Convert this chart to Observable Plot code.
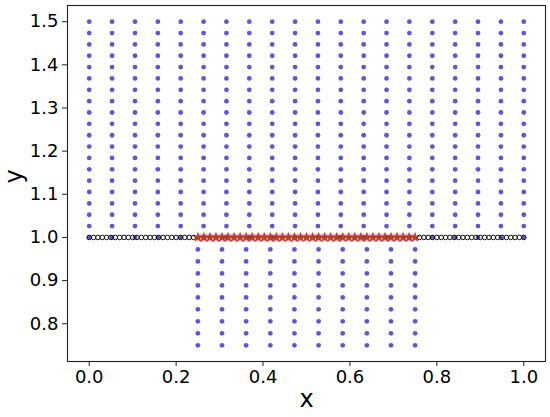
<!DOCTYPE html>
<html>
<head>
<meta charset="utf-8">
<script src="https://cdn.jsdelivr.net/npm/d3@7"></script>
<script src="https://cdn.jsdelivr.net/npm/@observablehq/plot@0.6"></script>
<style>
  html, body { margin: 0; padding: 0; background: #fff; }
  #chart svg { display: block; }
</style>
</head>
<body>
<div id="chart"></div>
<script>
// Interior grid (upper block), x columns and y rows
const upperXs = [0, 0.0526, 0.1053, 0.1579, 0.2105, 0.2632, 0.3158, 0.3684, 0.4211, 0.4737,
  0.5263, 0.5789, 0.6316, 0.6842, 0.7368, 0.7895, 0.8421, 0.8947, 0.9474, 1];
const upperYs = [1, 1.0263, 1.0526, 1.0789, 1.1053, 1.1316, 1.1579, 1.1842, 1.2105, 1.2368,
  1.2632, 1.2895, 1.3158, 1.3421, 1.3684, 1.3947, 1.4211, 1.4474, 1.4737, 1.5];
// Interior grid (lower block)
const lowerXs = [0.25, 0.3056, 0.3611, 0.4167, 0.4722, 0.5278, 0.5833, 0.6389, 0.6944, 0.75];
const lowerYs = [0.75, 0.7778, 0.8056, 0.8333, 0.8611, 0.8889, 0.9167, 0.9444, 0.9722];
// Boundary points on y = 1 (open circles)
const boundaryXs = [0, 0.01, 0.02, 0.03, 0.04, 0.05, 0.06, 0.07, 0.08, 0.09, 0.10, 0.11, 0.12,
  0.13, 0.14, 0.15, 0.16, 0.17, 0.18, 0.19, 0.20, 0.21, 0.22, 0.23, 0.24,
  0.76, 0.77, 0.78, 0.79, 0.80, 0.81, 0.82, 0.83, 0.84, 0.85, 0.86, 0.87, 0.88,
  0.89, 0.90, 0.91, 0.92, 0.93, 0.94, 0.95, 0.96, 0.97, 0.98, 0.99, 1.0];
const boundaryY = 1;
// Interface points (stars)
const starXs = [0.25, 0.2639, 0.2778, 0.2917, 0.3056, 0.3194, 0.3333, 0.3472, 0.3611, 0.375,
  0.3889, 0.4028, 0.4167, 0.4306, 0.4444, 0.4583, 0.4722, 0.4861, 0.5, 0.5139, 0.5278,
  0.5417, 0.5556, 0.5694, 0.5833, 0.5972, 0.6111, 0.625, 0.6389, 0.6528, 0.6667, 0.6806,
  0.6944, 0.7083, 0.7222, 0.7361, 0.75];
const bandRange = [0.25, 0.75];
// Tick labels
const xTicks = [0, 0.2, 0.4, 0.6, 0.8, 1.0];
const yTicks = [0.8, 0.9, 1.0, 1.1, 1.2, 1.3, 1.4, 1.5];

const gridPts = [
  ...upperXs.flatMap(x => upperYs.map(y => ({x, y}))),
  ...lowerXs.flatMap(x => lowerYs.map(y => ({x, y})))
];
const boundaryPts = boundaryXs.map(x => ({x, y: boundaryY}));
const starPts = starXs.map(x => ({x, y: boundaryY}));

const chart = Plot.plot({
  width: 550,
  height: 417,
  marginLeft: 67,
  marginRight: 5,
  marginTop: 5,
  marginBottom: 56,
  style: {fontFamily: "DejaVu Sans", background: "#fff", color: "#000"},
  x: {domain: [-0.05, 1.05]},
  y: {domain: [0.7125, 1.5375]},
  marks: [
    Plot.ruleY([{y: boundaryY, x1: bandRange[0], x2: bandRange[1]}],
      {y: "y", x1: "x1", x2: "x2", stroke: "#f9b8e0", strokeWidth: 8}),
    Plot.dot(gridPts, {x: "x", y: "y", r: 2.4, fill: "#5b58d8", stroke: "none"}),
    Plot.dot(boundaryPts, {x: "x", y: "y", r: 2.3, fill: "none", stroke: "#111", strokeWidth: 1}),
    Plot.dot(starPts, {x: "x", y: "y", r: 3.0, symbol: "star", fill: "#b8401c", stroke: "#8a2a10", strokeWidth: 0.4}),
    Plot.frame({stroke: "#222", strokeWidth: 1.1}),
    Plot.axisX(xTicks, {tickSize: 5, tickPadding: 4, fontSize: 18, tickFormat: d => d.toFixed(1), label: null, stroke: "#222"}),
    Plot.axisY(yTicks, {tickSize: 5, tickPadding: 4, fontSize: 18, tickFormat: d => d.toFixed(1), label: null, stroke: "#222"}),
    Plot.text(["x"], {frameAnchor: "bottom", dy: 45, text: d => d, fontSize: 24, fill: "#000"}),
    Plot.text(["y"], {frameAnchor: "left", dx: -53, rotate: -90, text: d => d, fontSize: 24, fill: "#000"})
  ]
});
document.getElementById("chart").appendChild(chart);
</script>
</body>
</html>
